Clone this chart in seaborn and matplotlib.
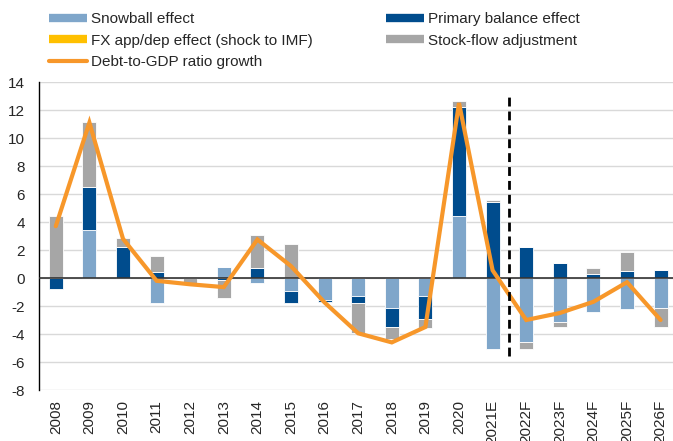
import matplotlib
matplotlib.use("Agg")
import matplotlib.pyplot as plt
from matplotlib.lines import Line2D
import numpy as np
import seaborn as sns

# Data (percentage points)
years = ["2008", "2009", "2010", "2011", "2012", "2013", "2014", "2015", "2016",
         "2017", "2018", "2019", "2020", "2021E", "2022F", "2023F", "2024F",
         "2025F", "2026F"]
snowball = [0.0, 3.4, 0.0, -1.8, 0.0, 0.8, -0.35, -0.9, -1.55, -1.25, -2.15, -1.3,
            4.4, -5.05, -4.55, -3.15, -2.45, -2.2, -2.15]
primary = [-0.8, 3.1, 2.25, 0.45, 0.0, -0.15, 0.7, -0.85, -0.15, -0.55, -1.35, -1.6,
           7.8, 5.4, 2.2, 1.1, 0.3, 0.5, 0.55]
fx_effect = [0.0] * 19
stock_flow = [4.4, 4.65, 0.6, 1.1, -0.35, -1.3, 2.4, 2.4, 0.0, -2.15, -0.85, -0.65,
              0.45, 0.2, -0.55, -0.35, 0.45, 1.35, -1.35]
debt_growth = [3.7, 11.1, 2.8, -0.2, -0.45, -0.65, 2.75, 0.85, -1.75, -3.95, -4.6,
               -3.5, 12.5, 0.55, -3.0, -2.5, -1.7, -0.3, -3.0]

c_snow = "#7FA6CA"
c_prim = "#004C8D"
c_fx = "#FFC000"
c_sfa = "#A6A6A6"
c_line = "#F7972A"

sns.set_style("white")
plt.rcParams["font.family"] = ["Liberation Sans", "DejaVu Sans"]
plt.rcParams["font.size"] = 11
plt.rcParams["axes.unicode_minus"] = False

fig = plt.figure(figsize=(6.73, 4.41), dpi=100)
ax = fig.add_axes([39 / 673, 51 / 441, 638.4 / 673, 308 / 441])

x = np.arange(len(years))
pos_base = np.zeros(len(years))
neg_base = np.zeros(len(years))
for vals, col in [(snowball, c_snow), (primary, c_prim), (fx_effect, c_fx), (stock_flow, c_sfa)]:
    v = np.array(vals)
    bottom = np.where(v >= 0, pos_base, neg_base)
    ax.bar(x, v, width=0.42, bottom=bottom, color=col, edgecolor="white",
           linewidth=0.6, zorder=2)
    pos_base = pos_base + np.where(v > 0, v, 0)
    neg_base = neg_base + np.where(v < 0, v, 0)

sns.lineplot(x=x, y=debt_growth, ax=ax, color=c_line, linewidth=3, zorder=4,
             solid_joinstyle="miter")

# forecast divider
ax.plot([13.5, 13.5], [-5.6, 13.1], color="black", linewidth=2,
        dashes=(3.2, 1.8), zorder=5)

ax.axhline(0, color="#333333", linewidth=1.2, zorder=3)
ax.set_ylim(-8, 14)
ax.set_xlim(-0.5, 18.5)
ax.set_yticks(range(-8, 15, 2))
ax.set_xticks(x)
ax.set_xticklabels(years, rotation=90)
ax.yaxis.grid(True, color="#D9D9D9", linewidth=1)
ax.set_axisbelow(True)
ax.tick_params(axis="y", length=0, pad=10)
ax.tick_params(axis="x", length=0, pad=7)
for s in ["top", "right", "bottom"]:
    ax.spines[s].set_visible(False)
ax.spines["left"].set_color("black")
ax.spines["left"].set_linewidth(1)

handles = [
    Line2D([], [], color=c_snow, linewidth=6, solid_capstyle="butt"),
    Line2D([], [], color=c_fx, linewidth=6, solid_capstyle="butt"),
    Line2D([], [], color=c_line, linewidth=3, solid_capstyle="round"),
    Line2D([], [], color=c_prim, linewidth=6, solid_capstyle="butt"),
    Line2D([], [], color=c_sfa, linewidth=6, solid_capstyle="butt"),
]
labels = ["Snowball effect", "FX app/dep effect (shock to IMF)", "Debt-to-GDP ratio growth",
          "Primary balance effect", "Stock-flow adjustment"]
fig.legend(handles, labels, ncol=2, loc="upper left", bbox_to_anchor=(49 / 673, 1 - 12 / 441),
           frameon=False, borderpad=0, borderaxespad=0, handlelength=2.5,
           handletextpad=0.25, columnspacing=4.8, labelspacing=0.5, fontsize=11)

fig.savefig("out.png", dpi=100)
